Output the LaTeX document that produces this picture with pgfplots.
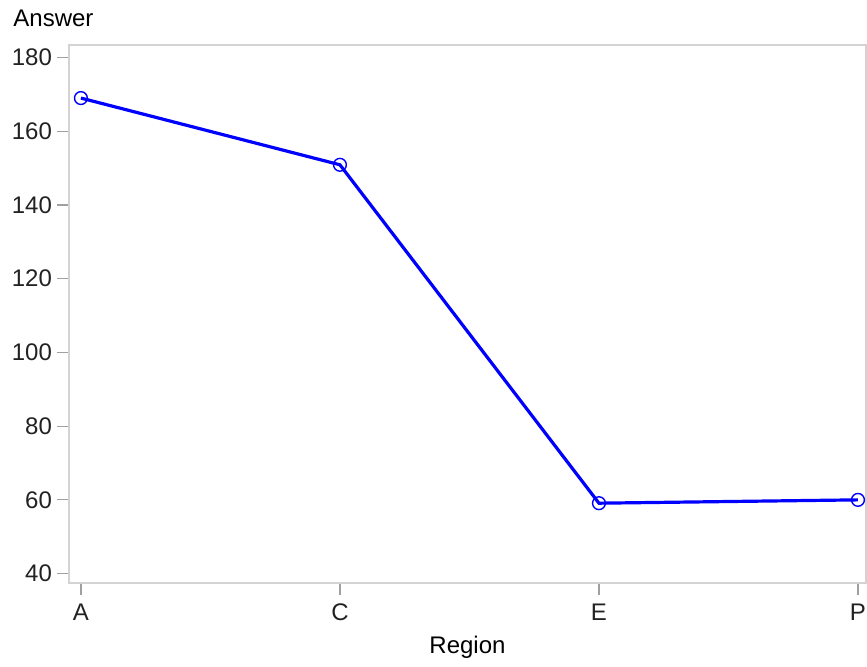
\documentclass[border=0pt]{standalone}
\usepackage{pgfplots}
\pgfplotsset{compat=1.18}
\usepackage{fontspec}
\setmainfont{Liberation Sans}
\definecolor{axgray}{HTML}{D3D3D3}
\definecolor{tickgray}{HTML}{A0A0A0}
\definecolor{txt}{HTML}{222222}
\begin{document}
\begin{tikzpicture}[font=\fontsize{12}{14}\selectfont]
\path[use as bounding box] (-34.5pt,-42pt) rectangle (399pt,291.5pt);
\begin{axis}[
  at={(0,0)}, anchor=south west,
  scale only axis,
  width=398.5pt, height=269pt,
  xmin=-0.046, xmax=3.031,
  ymin=37.45, ymax=183.4,
  xtick={0,1,2,3},
  xticklabels={A,C,E,P},
  ytick={40,60,80,100,120,140,160,180},
  axis line style={axgray, line width=0.6pt},
  tick align=outside,
  major tick length=6pt,
  every tick/.style={tickgray, line width=0.6pt},
  xtick pos=bottom, ytick pos=left,
  /pgf/number format/assume math mode=true,
  tick label style={text=txt},
  xticklabel style={anchor=base, yshift=-13pt},
  yticklabel style={anchor=east, xshift=1pt},
  xlabel={Region}, ylabel={Answer},
  label style={text=txt},
  every axis x label/.style={at={(rel axis cs:0.5,0)}, anchor=base, yshift=-35.5pt},
  every axis y label/.style={at={(rel axis cs:0,1)}, anchor=base west, inner sep=0pt, xshift=-28pt, yshift=9pt},
  clip=false,
]
\addplot[color=blue, line width=1.6pt, mark=o, mark size=3.2pt,
  mark options={line width=0.7pt, blue}]
  coordinates {(0,169.0) (1,150.9) (2,59.1) (3,60.0)};
\end{axis}
\end{tikzpicture}
\end{document}
